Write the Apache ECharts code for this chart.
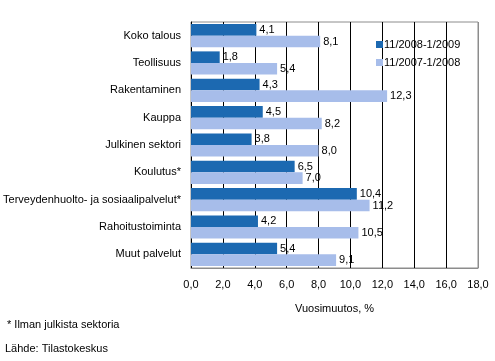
<!DOCTYPE html>
<html><head><meta charset="utf-8">
<script src="https://cdn.jsdelivr.net/npm/echarts@6/dist/echarts.min.js"></script>
<style>html,body{margin:0;padding:0;background:#fff}#c{width:495px;height:361px}</style>
</head><body><div id="c"></div>
<script>
const categories = ["Koko talous","Teollisuus","Rakentaminen","Kauppa","Julkinen sektori","Koulutus*","Terveydenhuolto- ja sosiaalipalvelut*","Rahoitustoiminta","Muut palvelut"];
const seriesNames = ["11/2008-1/2009","11/2007-1/2008"];
const values2009 = [4.1,1.8,4.3,4.5,3.8,6.5,10.4,4.2,5.4];
const values2008 = [8.1,5.4,12.3,8.2,8.0,7.0,11.2,10.5,9.1];
const xTicks = {min:0,max:18,interval:2};
const axisName = "Vuosimuutos, %";
const footnote = "* Ilman julkista sektoria";
const source = "Lähde: Tilastokeskus";

const fmt = v => Number(v).toFixed(1).replace('.', ',');
const font = "'Liberation Sans', Arial, sans-serif";
const chart = echarts.init(document.getElementById('c'), null, {renderer:'canvas'});
const splitColors = [];
for (let v = xTicks.min; v <= xTicks.max; v += xTicks.interval) splitColors.push(v === xTicks.max ? '#8c8c8c' : '#000');
chart.setOption({
  animation:false,
  textStyle:{fontFamily:font},
  grid:{left:191,right:17,top:22,bottom:93,show:true,borderColor:'#8c8c8c',borderWidth:1},
  legend:{
    orient:'vertical', left:371, top:34, itemWidth:7, itemHeight:7, itemGap:7,
    icon:'rect', textStyle:{fontFamily:font,fontSize:11,color:'#000',padding:[0,0,0,-4]},
    data:seriesNames
  },
  xAxis:{
    type:'value', min:xTicks.min, max:xTicks.max, interval:xTicks.interval,
    axisLine:{show:true,lineStyle:{color:'#8c8c8c'}},
    axisTick:{show:false},
    axisLabel:{formatter:fmt,fontFamily:font,fontSize:11,color:'#000',margin:11},
    splitLine:{show:true,lineStyle:{color:splitColors,width:1}},
    name:axisName, nameLocation:'middle', nameGap:35,
    nameTextStyle:{fontFamily:font,fontSize:11,color:'#000'}
  },
  yAxis:{
    type:'category', data:categories, inverse:true,
    axisLine:{show:true,lineStyle:{color:'#000'}},
    axisTick:{show:false},
    axisLabel:{fontFamily:font,fontSize:11,color:'#000',margin:10}
  },
  series:[
    {name:seriesNames[0],type:'bar',data:values2009,barCategoryGap:'15%',barGap:'0%',
     itemStyle:{color:'#1c69b1'},
     label:{show:true,position:'right',distance:3,formatter:p=>fmt(p.value),fontFamily:font,fontSize:11,color:'#000'}},
    {name:seriesNames[1],type:'bar',data:values2008,barCategoryGap:'15%',barGap:'0%',
     itemStyle:{color:'#a7bdea'},
     label:{show:true,position:'right',distance:3,formatter:p=>fmt(p.value),fontFamily:font,fontSize:11,color:'#000'}}
  ],
  graphic:[
    {type:'text',left:7,top:319,style:{text:footnote,font:"11px "+font,fill:'#000'}},
    {type:'text',left:5,top:343,style:{text:source,font:"11px "+font,fill:'#000'}}
  ]
});
</script></body></html>
